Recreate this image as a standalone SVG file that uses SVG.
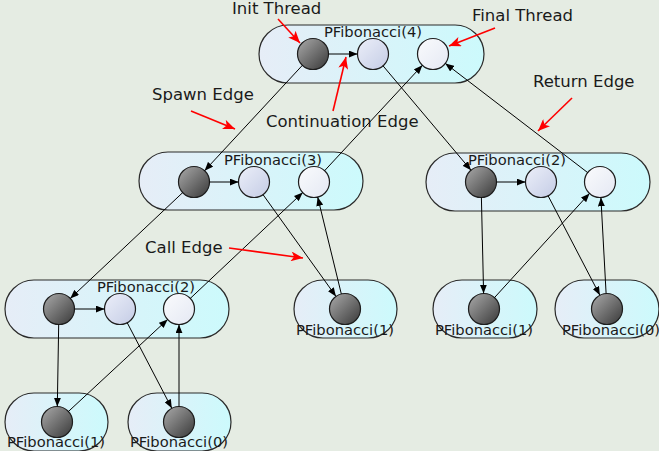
<svg xmlns="http://www.w3.org/2000/svg" width="659" height="451" viewBox="0 0 659 451">
<defs>
<linearGradient id="pillG" x1="0" y1="0" x2="1" y2="0">
<stop offset="0" stop-color="#e6edf7"/>
<stop offset="1" stop-color="#ccfafc"/>
</linearGradient>
<linearGradient id="darkG" x1="0" y1="0" x2="1" y2="1">
<stop offset="0" stop-color="#ababab"/>
<stop offset="1" stop-color="#383838"/>
</linearGradient>
<linearGradient id="midG" x1="0" y1="0" x2="1" y2="1">
<stop offset="0" stop-color="#eceff9"/>
<stop offset="1" stop-color="#c4cce5"/>
</linearGradient>
<linearGradient id="finG" x1="0" y1="0" x2="1" y2="1">
<stop offset="0" stop-color="#fafbfd"/>
<stop offset="1" stop-color="#e4e8f3"/>
</linearGradient>
<marker id="ah" viewBox="0 0 10 8" markerWidth="9" markerHeight="7" refX="10" refY="4" orient="auto" markerUnits="userSpaceOnUse">
<path d="M0,0 L10,4 L0,8 z" fill="#000"/>
</marker>
<marker id="rh" viewBox="0 0 12 10" markerWidth="13" markerHeight="10" refX="12" refY="5" orient="auto" markerUnits="userSpaceOnUse">
<path d="M0,0 L12,5 L0,10 L3,5 z" fill="#ff0000"/>
</marker>
</defs>
<style>
.pill{fill:url(#pillG);stroke:#2a2a2a;stroke-width:1.2}
.d{fill:url(#darkG);stroke:#1e1e1e;stroke-width:1.2}
.m{fill:url(#midG);stroke:#1e1e1e;stroke-width:1.2}
.f{fill:url(#finG);stroke:#1e1e1e;stroke-width:1.2}
.lbl{font-family:"DejaVu Sans",sans-serif;font-size:14.7px;fill:#1a1a1a}
.ann{font-family:"DejaVu Sans",sans-serif;font-size:16.5px;fill:#1a1a1a}
.e{stroke:#000;stroke-width:1;fill:none;marker-end:url(#ah)}
.r{stroke:#ff0000;stroke-width:1.6;fill:none;marker-end:url(#rh)}
</style>
<rect x="0" y="0" width="659" height="451" fill="#e5ece3"/>

<g id="n4">
<rect class="pill" x="259" y="25" width="225" height="58" rx="29"/>
<circle class="d" cx="313" cy="54" r="15.5"/>
<circle class="m" cx="373" cy="54" r="15.5"/>
<circle class="f" cx="433" cy="54" r="15.5"/>
<text class="lbl" x="324" y="37">PFibonacci(4)</text>
</g>
<g id="n3">
<rect class="pill" x="139" y="152" width="224" height="58" rx="29"/>
<circle class="d" cx="194" cy="182" r="15.5"/>
<circle class="m" cx="254" cy="182" r="15.5"/>
<circle class="f" cx="314" cy="182" r="15.5"/>
<text class="lbl" x="224" y="165">PFibonacci(3)</text>
</g>
<g id="n2r">
<rect class="pill" x="426" y="153" width="224" height="58" rx="29"/>
<circle class="d" cx="481" cy="182" r="15.5"/>
<circle class="m" cx="541" cy="182" r="15.5"/>
<circle class="f" cx="600" cy="182" r="15.5"/>
<text class="lbl" x="468" y="165">PFibonacci(2)</text>
</g>
<g id="n2l">
<rect class="pill" x="5" y="280" width="224" height="58" rx="29"/>
<circle class="d" cx="59" cy="309" r="15.5"/>
<circle class="m" cx="120" cy="309" r="15.5"/>
<circle class="f" cx="179" cy="309" r="15.5"/>
<text class="lbl" x="97" y="292">PFibonacci(2)</text>
</g>
<g id="n1a">
<rect class="pill" x="294" y="280" width="103" height="58" rx="29"/>
<circle class="d" cx="345" cy="309" r="15.5"/>
<text class="lbl" x="296" y="335">PFibonacci(1)</text>
</g>
<g id="n1b">
<rect class="pill" x="433" y="280" width="104" height="58" rx="29"/>
<circle class="d" cx="484" cy="309" r="15.5"/>
<text class="lbl" x="435" y="335">PFibonacci(1)</text>
</g>
<g id="n0b">
<rect class="pill" x="555" y="280" width="104" height="58" rx="29"/>
<circle class="d" cx="607" cy="309" r="15.5"/>
<text class="lbl" x="562" y="335">PFibonacci(0)</text>
</g>
<g id="n1c">
<rect class="pill" x="5" y="393" width="103" height="58" rx="29"/>
<circle class="d" cx="57" cy="422" r="15.5"/>
<text class="lbl" x="7" y="447">PFibonacci(1)</text>
</g>
<g id="n0c">
<rect class="pill" x="128" y="393" width="103" height="58" rx="29"/>
<circle class="d" cx="179" cy="422" r="15.5"/>
<text class="lbl" x="130" y="447">PFibonacci(0)</text>
</g>

<g id="edges">
<line class="e" x1="328.5" y1="54" x2="357.5" y2="54"/>
<line class="e" x1="302.4" y1="65.3" x2="204.6" y2="170.7"/>
<line class="e" x1="383" y1="65.8" x2="471" y2="170.2"/>
<line class="e" x1="324.6" y1="170.7" x2="422.4" y2="65.3"/>
<line class="e" x1="587.7" y1="172.6" x2="445.3" y2="63.4"/>
<line class="e" x1="209.5" y1="182" x2="238.5" y2="182"/>
<line class="e" x1="182.7" y1="192.6" x2="70.3" y2="298.4"/>
<line class="e" x1="263" y1="194.6" x2="336" y2="296.4"/>
<line class="e" x1="341.3" y1="293.9" x2="317.7" y2="197.1"/>
<line class="e" x1="190.3" y1="298.4" x2="302.7" y2="192.6"/>
<line class="e" x1="496.5" y1="182" x2="525.5" y2="182"/>
<line class="e" x1="481.4" y1="197.5" x2="483.6" y2="293.5"/>
<line class="e" x1="548.1" y1="195.8" x2="599.9" y2="295.3"/>
<line class="e" x1="494.5" y1="297.6" x2="589.5" y2="193.4"/>
<line class="e" x1="606.1" y1="293.5" x2="600.9" y2="197.5"/>
<line class="e" x1="74.5" y1="309" x2="104.5" y2="309"/>
<line class="e" x1="58.7" y1="324.5" x2="57.3" y2="406.5"/>
<line class="e" x1="127.2" y1="322.7" x2="171.8" y2="408.3"/>
<line class="e" x1="68.4" y1="411.5" x2="167.6" y2="319.5"/>
<line class="e" x1="179" y1="406.5" x2="179" y2="324.5"/>
</g>

<g id="annotations">
<text class="ann" x="232" y="14">Init Thread</text>
<line class="r" x1="278" y1="19" x2="300" y2="43"/>
<text class="ann" x="472" y="21">Final Thread</text>
<line class="r" x1="495" y1="28" x2="449" y2="46"/>
<text class="ann" x="152" y="100">Spawn Edge</text>
<line class="r" x1="191" y1="111" x2="235" y2="129"/>
<text class="ann" x="266" y="127">Continuation Edge</text>
<line class="r" x1="333" y1="111" x2="346" y2="57"/>
<text class="ann" x="533" y="87">Return Edge</text>
<line class="r" x1="572" y1="98" x2="538" y2="131"/>
<text class="ann" x="145" y="253">Call Edge</text>
<line class="r" x1="229" y1="248" x2="303" y2="258"/>
</g>
</svg>
